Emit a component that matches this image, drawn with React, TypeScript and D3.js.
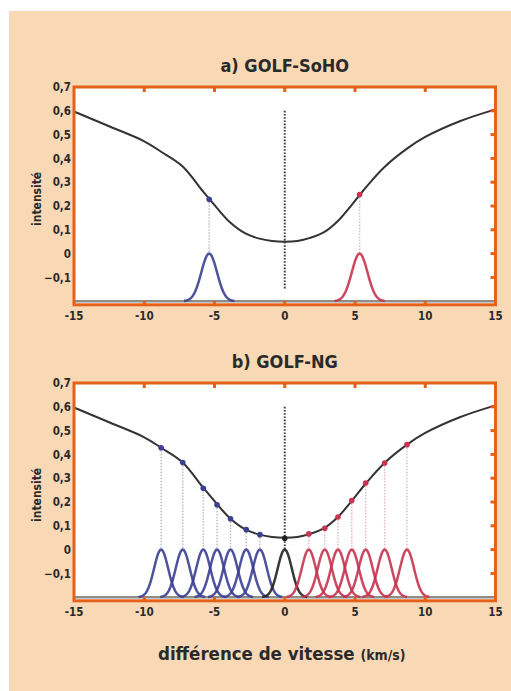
import React, { useRef, useEffect } from 'react';
import * as d3 from 'd3';

// Line profile (km/s -> intensity).
const profileX = [-15, -12.5, -10, -8.8, -7.3, -5.8, -4.8, -3.9, -2.8, -1.8, -0.9, 0, 0.9, 1.8, 2.8, 3.8, 4.8, 5.8, 7.1, 8.7, 10, 12.5, 15];
const profileY = [0.597, 0.535, 0.472, 0.428, 0.368, 0.26, 0.19, 0.132, 0.085, 0.063, 0.053, 0.05, 0.053, 0.066, 0.09, 0.138, 0.207, 0.28, 0.364, 0.441, 0.49, 0.557, 0.606];

// a) GOLF-SoHO: two measurement points
const sohoX = [-5.38, 5.33];
const sohoY = [0.228, 0.248];

// b) GOLF-NG: fifteen measurement points
const ngX = [-8.8, -7.26, -5.8, -4.82, -3.86, -2.74, -1.77, 0, 1.71, 2.85, 3.79, 4.77, 5.76, 7.11, 8.7];
const ngY = [0.428, 0.366, 0.258, 0.188, 0.13, 0.084, 0.063, 0.048, 0.066, 0.09, 0.137, 0.206, 0.28, 0.364, 0.441];

const xTicks = [-15, -10, -5, 0, 5, 10, 15];
const yTicks = [-0.1, 0, 0.1, 0.2, 0.3, 0.4, 0.5, 0.6, 0.7];

const panels = [
  { title: 'a) GOLF-SoHO', top: 87, xs: sohoX, ys: sohoY, sigma: 0.56, centreBottom: -0.15 },
  { title: 'b) GOLF-NG', top: 383, xs: ngX, ys: ngY, sigma: 0.5, centreBottom: 0 },
];

const App = () => {
  const ref = useRef(null);

  useEffect(() => {
    const svg = d3.select(ref.current);
    svg.selectAll('*').remove();

    const W = 511, H = 691;
    const font = '"DejaVu Sans Condensed", "DejaVu Sans", sans-serif';
    const orange = '#e4611a';
    const textCol = '#2a2a2a';
    const blue = '#3c3f92';
    const red = '#c8334f';

    svg.append('rect').attr('width', W).attr('height', H).attr('fill', '#ffffff');
    svg.append('rect').attr('x', 9).attr('y', 11).attr('width', W - 9).attr('height', H - 11).attr('fill', '#f9d9b5');

    const left = 74, right = 495.5, plotH = 217.8;

    panels.forEach((p) => {
      const x = d3.scaleLinear().domain([-15, 15]).range([left, right]);
      const y = d3.scaleLinear().domain([-0.215, 0.7]).range([p.top + plotH, p.top]);
      const g = svg.append('g');

      // title
      g.append('text')
        .attr('x', (left + right) / 2)
        .attr('y', p.top - 15)
        .attr('text-anchor', 'middle')
        .style('font-family', font)
        .style('font-weight', 'bold')
        .style('font-size', '18px')
        .attr('fill', textCol)
        .text(p.title);

      // white plot area
      g.append('rect')
        .attr('x', left).attr('y', p.top)
        .attr('width', right - left).attr('height', plotH)
        .attr('fill', '#ffffff');

      // baseline of the gaussians
      g.append('line')
        .attr('x1', left).attr('x2', right)
        .attr('y1', y(-0.2)).attr('y2', y(-0.2))
        .attr('stroke', '#8d8d8d').attr('stroke-width', 2.5);

      // dotted links from profile to gaussian peaks
      p.xs.forEach((v, i) => {
        if (v === 0) return;
        g.append('line')
          .attr('x1', x(v)).attr('x2', x(v))
          .attr('y1', y(p.ys[i])).attr('y2', y(0))
          .attr('stroke', v < 0 ? '#b9b9c4' : '#e2b7bf')
          .attr('stroke-width', 1.4)
          .attr('stroke-dasharray', '1.5,1.5');
      });

      // gaussians
      const gauss = d3.line()
        .x(d => x(d[0]))
        .y(d => y(d[1]));
      p.xs.forEach((v) => {
        const pts = d3.range(-3.2, 3.2001, 0.05).map(t => [v + t * p.sigma, -0.2 + 0.2 * Math.exp(-t * t / 2)]);
        g.append('path')
          .attr('d', gauss(pts))
          .attr('fill', 'none')
          .attr('stroke', v < 0 ? blue : v > 0 ? red : '#222222')
          .attr('stroke-width', 2.5)
          .attr('stroke-opacity', 0.9);
      });

      // centre dotted line
      g.append('line')
        .attr('x1', x(0)).attr('x2', x(0))
        .attr('y1', y(0.6)).attr('y2', y(p.centreBottom))
        .attr('stroke', '#3a3a3a')
        .attr('stroke-width', 2)
        .attr('stroke-dasharray', '1.6,1.6');

      // line profile
      const profile = d3.line()
        .x((d, i) => x(profileX[i]))
        .y(d => y(d))
        .curve(d3.curveCatmullRom.alpha(0.5));
      g.append('path')
        .attr('d', profile(profileY))
        .attr('fill', 'none')
        .attr('stroke', '#333333')
        .attr('stroke-width', 2);

      // measurement points
      p.xs.forEach((v, i) => {
        g.append('circle')
          .attr('cx', x(v)).attr('cy', y(p.ys[i]))
          .attr('r', 2.8)
          .attr('fill', v < 0 ? blue : v > 0 ? red : '#222222');
      });

      // frame
      g.append('rect')
        .attr('x', left).attr('y', p.top)
        .attr('width', right - left).attr('height', plotH)
        .attr('fill', 'none')
        .attr('stroke', orange)
        .attr('stroke-width', 3);

      // x ticks (inward, top and bottom) and labels
      xTicks.forEach((t) => {
        if (t > -15 && t < 15) {
          g.append('line').attr('x1', x(t)).attr('x2', x(t)).attr('y1', p.top).attr('y2', p.top + 5)
            .attr('stroke', orange).attr('stroke-width', 3);
          g.append('line').attr('x1', x(t)).attr('x2', x(t)).attr('y1', p.top + plotH).attr('y2', p.top + plotH - 4)
            .attr('stroke', orange).attr('stroke-width', 3);
        }
        g.append('text')
          .attr('x', x(t))
          .attr('y', p.top + plotH + 15)
          .attr('text-anchor', 'middle')
          .style('font-family', font)
          .style('font-weight', 'bold')
          .style('font-size', '11.5px')
          .attr('fill', textCol)
          .text(String(t));
      });

      // y ticks (inward, right) and labels
      yTicks.forEach((t) => {
        if (t < 0.7) {
          g.append('line').attr('x1', right).attr('x2', right - 5).attr('y1', y(t)).attr('y2', y(t))
            .attr('stroke', orange).attr('stroke-width', 3);
        }
        g.append('text')
          .attr('x', 71)
          .attr('y', y(t))
          .attr('dy', '0.36em')
          .attr('text-anchor', 'end')
          .style('font-family', font)
          .style('font-weight', 'bold')
          .style('font-size', '11.5px')
          .attr('fill', textCol)
          .text(t === 0 ? '0' : d3.format('.1f')(t).replace('.', ','));
      });

      // y label
      g.append('text')
        .attr('transform', `translate(41, ${p.top + plotH / 2 + 3}) rotate(-90)`)
        .attr('text-anchor', 'middle')
        .style('font-family', font)
        .style('font-weight', 'bold')
        .style('font-size', '12px')
        .attr('fill', textCol)
        .text('intensité');
    });

    // x label
    const xl = svg.append('text')
      .attr('x', 158)
      .attr('y', 660)
      .style('font-family', font)
      .style('font-weight', 'bold')
      .attr('fill', textCol);
    xl.append('tspan').style('font-size', '18.5px').text('différence de vitesse ');
    xl.append('tspan').style('font-size', '14px').text('(km/s)');
  }, []);

  return <svg ref={ref} width={511} height={691} style={{ position: 'absolute', left: 0, top: 0 }}></svg>;
};

export default App;
